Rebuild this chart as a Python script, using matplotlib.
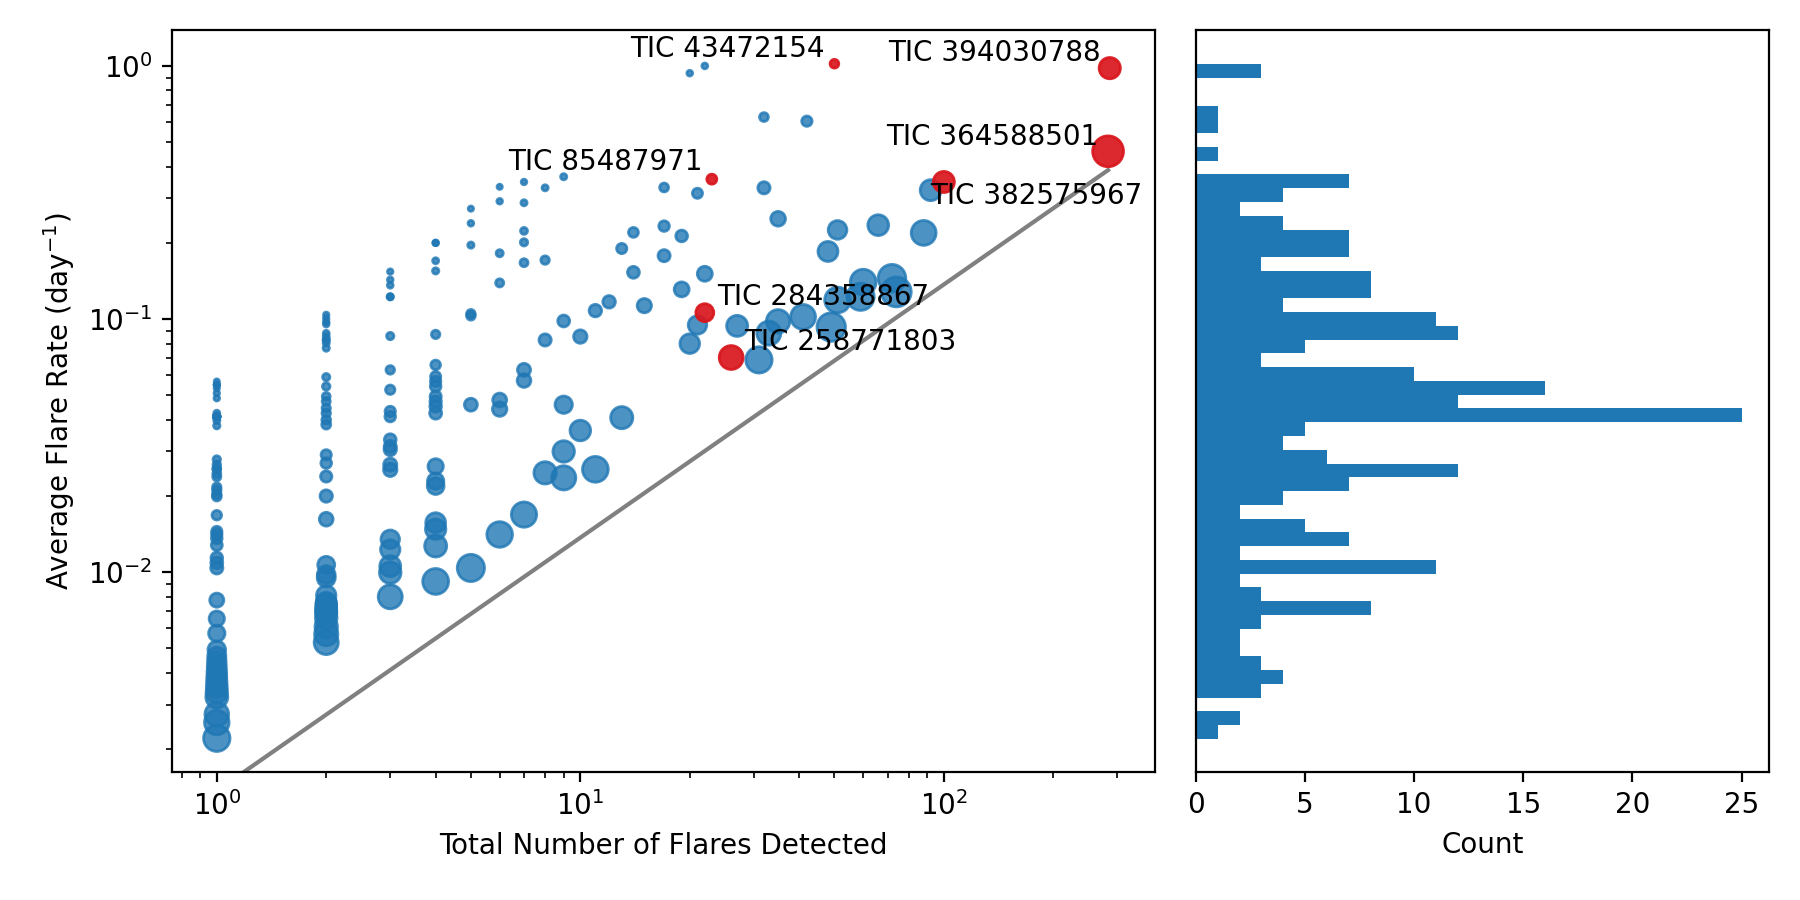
"""
flare rate vs. number of flares detected, with a side histogram of the rates
"""

import numpy as np
import matplotlib.pyplot as plt

# flares detected per star and the average flare rate (1/day)
flares_1 = [1] * 56
rate_1 = [0.0567, 0.0550, 0.0550, 0.0550, 0.0533, 0.0510, 0.0487, 0.0425,
          0.0412, 0.0412, 0.0412, 0.0412, 0.0412, 0.0412, 0.0412, 0.0412,
          0.0412, 0.0412, 0.0412, 0.0412, 0.0412, 0.0412, 0.0398, 0.0379,
          0.0279, 0.0266, 0.0256, 0.0256, 0.0245, 0.0238, 0.0217, 0.0211,
          0.0203, 0.0199, 0.0168, 0.0145, 0.0141, 0.0136, 0.0128, 0.0114,
          0.0109, 0.0104, 0.00776, 0.00656, 0.00574, 0.00494, 0.00466, 0.00445,
          0.00424, 0.00405, 0.00387, 0.00369, 0.00352, 0.00336, 0.00321, 0.00275]
flares_1b = [1, 1]
rate_1b = [0.00255, 0.00221]

flares_2 = [2] * 39
rate_2 = [0.104, 0.1007, 0.0975, 0.0955, 0.0879, 0.0853, 0.0828, 0.0828,
          0.0805, 0.0768, 0.0590, 0.0542, 0.0495, 0.0473, 0.0445, 0.0425,
          0.0400, 0.0383, 0.0291, 0.0270, 0.0239, 0.0200, 0.0162, 0.0107,
          0.0098, 0.0095, 0.0081, 0.0076, 0.0075, 0.0074, 0.0073, 0.0072,
          0.0071, 0.0070, 0.0069, 0.0066, 0.0061, 0.0057, 0.00528]

flares_3 = [3] * 20
rate_3 = [0.154, 0.143, 0.136, 0.1225, 0.1225, 0.0857, 0.063, 0.0526,
          0.0432, 0.0412, 0.0334, 0.0314, 0.0305, 0.0266, 0.0254, 0.0135,
          0.0123, 0.01057, 0.00996, 0.0080]

flares_4 = [4] * 20
rate_4 = [0.200, 0.200, 0.170, 0.155, 0.087, 0.0659, 0.0593, 0.0567,
          0.0542, 0.0495, 0.0473, 0.0452, 0.0425, 0.0262, 0.0229, 0.0219,
          0.0157, 0.0148, 0.0127, 0.0092]

flares_more = [5, 5, 5, 5, 5, 5, 5,
               6, 6, 6, 6, 6, 6, 6,
               7, 7, 7, 7, 7, 7, 7, 7,
               8, 8, 8, 8,
               9, 9, 9, 9, 9,
               10, 10, 11, 11, 12, 13, 13, 14, 14, 15,
               17, 17, 17, 19, 19, 20, 20, 21, 21, 22, 22,
               27, 31, 32, 32, 33, 35, 35, 41, 42, 48, 49, 51, 51,
               60, 59, 66, 72, 74, 88, 92]
rate_more = [0.273, 0.239, 0.196, 0.105, 0.103, 0.0459, 0.0104,
             0.333, 0.292, 0.182, 0.139, 0.0479, 0.0441, 0.0141,
             0.348, 0.288, 0.223, 0.201, 0.167, 0.063, 0.0572, 0.0169,
             0.330, 0.171, 0.0827, 0.0247,
             0.365, 0.0983, 0.0459, 0.030, 0.0236,
             0.0853, 0.0363, 0.108, 0.0255, 0.117, 0.190, 0.0408, 0.220, 0.153, 0.113,
             0.331, 0.233, 0.178, 0.213, 0.131, 0.936, 0.080, 0.314, 0.0948, 1.00, 0.151,
             0.094, 0.069, 0.628, 0.330, 0.088, 0.249, 0.098, 0.102, 0.605, 0.185, 0.093,
             0.225, 0.119, 0.140, 0.1225, 0.235, 0.145, 0.128, 0.219, 0.323]

# highlighted stars
hl_names = ["TIC 43472154", "TIC 394030788", "TIC 364588501", "TIC 85487971",
            "TIC 284358867", "TIC 258771803", "TIC 382575967"]
hl_flares = [50, 286, 283, 23, 22, 26, 100]
hl_rate = [1.02, 0.98, 0.46, 0.357, 0.106, 0.0705, 0.348]
# label offsets in points and alignment
hl_dx = [-3.4, -3.4, -3.6, -3.3, 4.6, 4.8, -4.8]
hl_dy = [2.4, 2.5, 2.2, 3.2, 2.6, 2.6, -8.0]
hl_ha = ["right", "right", "right", "right", "left", "left", "left"]

# longest observing baseline (days) -> lower bound on the rate
baseline_days = 730
line_flares = [1, 283]

# histogram of the rates (log10 bin edges, counts from bottom to top)
hist_log_lo = -2.658
hist_log_step = 0.05437
hist_log_top = 0.0095
hist_counts = [1, 2, 0, 3, 4, 3, 2, 2, 3, 8, 3, 2, 11, 2, 7, 5, 2, 4, 7, 12,
               6, 4, 5, 25, 12, 16, 10, 3, 5, 12, 11, 4, 8, 8, 3, 7, 7, 4, 2, 4,
               7, 0, 1, 0, 1, 1, 0, 0, 3, 1]

if __name__ == '__main__':
    n_all = np.array(flares_1 + flares_1b + flares_2 + flares_3 + flares_4 + flares_more, dtype=float)
    r_all = np.array(rate_1 + rate_1b + rate_2 + rate_3 + rate_4 + rate_more)
    n_hl = np.array(hl_flares, dtype=float)
    r_hl = np.array(hl_rate)

    # marker area follows the observing time (flares / rate)
    size_all = n_all / r_all / 5.0
    size_hl = n_hl / r_hl / 5.0

    fig = plt.figure(figsize=(9, 4.5), dpi=200)
    ax = fig.add_axes([0.0956, 0.1422, 0.5461, 0.8245])
    axh = fig.add_axes([0.6644, 0.1422, 0.3183, 0.8245], sharey=ax)

    ax.scatter(n_all, r_all, s=size_all, color='C0', alpha=0.8)
    ax.scatter(n_hl, r_hl, s=size_hl, color='#d9161d', alpha=0.92, zorder=3)

    lx = np.array(line_flares, dtype=float)
    ax.plot(lx, lx / baseline_days, color='gray', lw=1.5, zorder=1)

    for name, x, y, dx, dy, ha in zip(hl_names, hl_flares, hl_rate, hl_dx, hl_dy, hl_ha):
        ax.annotate(name, (x, y), xytext=(dx, dy), textcoords='offset points',
                    ha=ha, va='baseline', fontsize=10, zorder=4)

    ax.set_xscale('log')
    ax.set_yscale('log')
    ax.set_xlim(10**-0.123, 10**2.581)
    ax.set_ylim(10**-2.789, 10**0.142)
    ax.set_xlabel("Total Number of Flares Detected")
    ax.set_ylabel("Average Flare Rate (day$^{-1}$)")

    n_bins = len(hist_counts) - 1
    edges = list(hist_log_lo + hist_log_step * np.arange(n_bins + 1)) + [hist_log_top]
    edges = 10**np.array(edges)
    centers = np.sqrt(edges[:-1] * edges[1:])
    axh.hist(centers, bins=edges, weights=hist_counts, orientation='horizontal', color='C0')
    axh.set_xlabel("Count")
    axh.tick_params(axis='y', which='both', left=False, labelleft=False)

    plt.savefig('out.png', dpi=200)
